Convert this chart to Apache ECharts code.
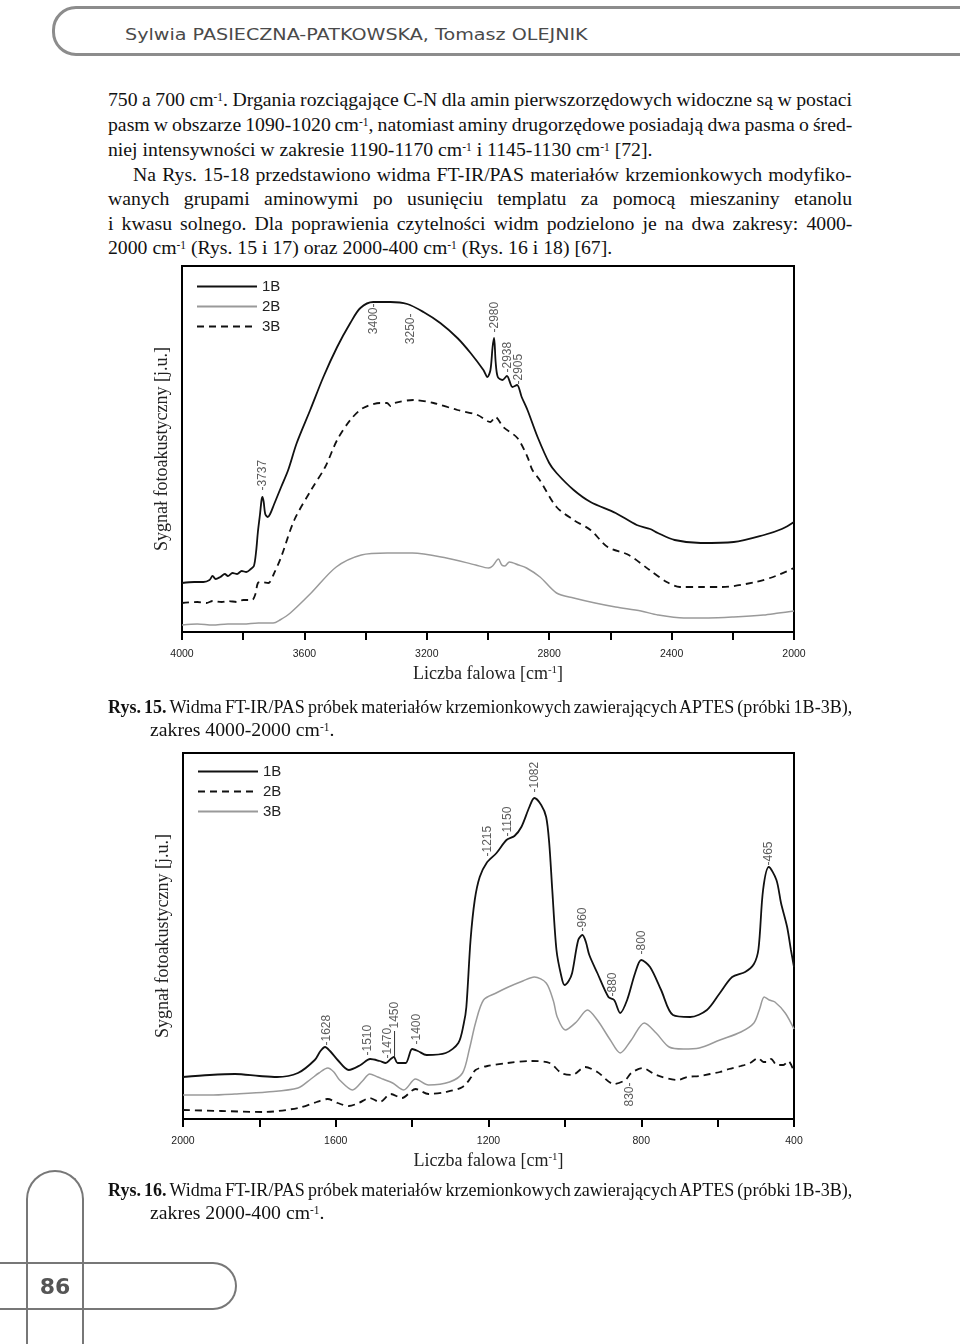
<!DOCTYPE html>
<html><head><meta charset="utf-8">
<script src="https://cdn.jsdelivr.net/npm/echarts@6/dist/echarts.min.js"></script>
<style>
html,body{margin:0;padding:0;background:#fff;}
#page{position:relative;width:960px;height:1344px;overflow:hidden;background:#fff;}
.hdr{position:absolute;left:52px;top:6px;width:1000px;height:50px;border:3px solid #8c8c8c;border-radius:24px;box-sizing:border-box;}
.hdrt{position:absolute;left:125px;top:24px;font:16px 'DejaVu Sans';color:#4a4a4a;line-height:22px;white-space:nowrap;}
.ln{position:absolute;white-space:nowrap;font-family:'Liberation Serif';font-size:19px;line-height:24px;color:#111;}
.ln sup{font-size:0.58em;line-height:0;vertical-align:0.4em;}
.fv{position:absolute;left:26px;top:1170px;width:58px;height:200px;border:2px solid #777;border-bottom:none;border-radius:29px 29px 0 0;box-sizing:border-box;}
.fh{position:absolute;left:-10px;top:1262px;width:247px;height:48px;border:2px solid #777;border-left:none;border-radius:0 24px 24px 0;box-sizing:border-box;}
.pg{position:absolute;left:27px;width:56px;top:1273px;text-align:center;font:bold 22px 'DejaVu Sans';color:#555;line-height:28px;}
.chart{position:absolute;left:0;width:960px;height:440px;}
</style></head><body><div id="page">
<div class="hdr"></div>
<div class="hdrt" id="hdrt">Sylwia PASIECZNA-PATKOWSKA, Tomasz OLEJNIK</div>

<div class="ln" style="left:108px;top:87px" data-w="744">750 a 700 cm<sup>-1</sup>. Drgania rozciągające C-N dla amin pierwszorzędowych widoczne są w postaci</div>
<div class="ln" style="left:108px;top:112px" data-w="744">pasm w obszarze 1090-1020 cm<sup>-1</sup>, natomiast aminy drugorzędowe posiadają dwa pasma o śred-</div>
<div class="ln" style="left:108px;top:137px">niej intensywności w zakresie 1190-1170 cm<sup>-1</sup> i 1145-1130 cm<sup>-1</sup> [72].</div>
<div class="ln" style="left:133px;top:162px" data-w="719">Na Rys. 15-18 przedstawiono widma FT-IR/PAS materiałów krzemionkowych modyfiko-</div>
<div class="ln" style="left:108px;top:186px" data-w="744">wanych grupami aminowymi po usunięciu templatu za pomocą mieszaniny etanolu</div>
<div class="ln" style="left:108px;top:211px" data-w="744">i kwasu solnego. Dla poprawienia czytelności widm podzielono je na dwa zakresy: 4000-</div>
<div class="ln" id="refline" style="left:108px;top:235px">2000 cm<sup>-1</sup> (Rys. 15 i 17) oraz 2000-400 cm<sup>-1</sup> (Rys. 16 i 18) [67].</div>

<div id="c1" class="chart" style="top:255px"></div>

<div class="ln" style="left:108px;top:694px" data-w="744"><b>Rys. 15.</b> Widma FT-IR/PAS próbek materiałów krzemionkowych zawierających APTES (próbki 1B-3B),</div>
<div class="ln" style="left:150px;top:717px">zakres 4000-2000 cm<sup>-1</sup>.</div>

<div id="c2" class="chart" style="top:740px"></div>

<div class="ln" style="left:108px;top:1177px" data-w="744"><b>Rys. 16.</b> Widma FT-IR/PAS próbek materiałów krzemionkowych zawierających APTES (próbki 1B-3B),</div>
<div class="ln" style="left:150px;top:1200px">zakres 2000-400 cm<sup>-1</sup>.</div>

<div class="fv"></div>
<div class="fh"></div>
<div class="pg">86</div>
</div>
<script>
// ---------- Rys. 15 (4000-2000 cm-1) ----------
const ticks1 = [4000, 3600, 3200, 2800, 2400, 2000];
const wn1_1B = [4000,3960,3930,3910,3900,3890,3875,3860,3850,3835,3820,3805,3790,3775,3765,3758,3752,3745,3740,3737,3733,3728,3720,3712,3700,3676,3653,3625,3581,3538,3493,3450,3417,3375,3319,3264,3211,3156,3100,3057,3015,3002,2992,2985,2980,2975,2968,2953,2938,2920,2905,2890,2871,2838,2800,2776,2720,2665,2583,2514,2470,2445,2390,2305,2197,2098,2040,2000];
const val1_1B = [49,50,50,52,56,53,55,58,56,59,58,61,60,63,66,80,100,118,132,135,130,118,115,118,127,145,162,189,222,255,285,309,324,330,330,328,320,309,294,279,262,255,262,285,294,270,255,252,256,245,247,235,222,195,169,159,142,130,119,107,103,99,92,89,90,97,103,110];
const wn1_2B = [4000,3950,3900,3850,3800,3750,3702,3680,3646,3578,3496,3414,3329,3247,3136,3040,2998,2985,2966,2955,2945,2930,2900,2874,2830,2776,2720,2650,2583,2500,2445,2360,2280,2197,2100,2050,2000];
const val1_2B = [7,8,7,8,8,9,9,12,19,39,65,77,79,79,74,67,64,66,73,67,66,70,67,64,55,39,34,29,25,21,17,14,14,15,17,19,21];
const wn1_3B = [4000,3950,3920,3900,3870,3850,3820,3800,3771,3760,3752,3740,3718,3700,3676,3633,3578,3532,3493,3450,3408,3352,3330,3319,3305,3244,3178,3100,3034,2992,2976,2950,2904,2871,2855,2831,2776,2720,2665,2609,2540,2472,2416,2373,2300,2236,2125,2060,2000];
const val1_3B = [29,30,29,31,30,31,30,32,32,38,49,50,49,58,75,112,142,165,192,212,224,229,229,226,229,232,229,222,217,210,215,205,194,175,162,152,125,112,102,85,77,62,50,45,45,45,50,56,64];
const peaks1Wn = [3737, 3375, 3254, 2979, 2936, 2900];
const peaks1Val = [140, 330, 320, 298, 258, 246];
const peaks1Txt = ['-3737', '3400-', '3250-', '-2980', '-2938', '-2905'];

// ---------- Rys. 16 (2000-400 cm-1) ----------
const ticks2 = [2000, 1600, 1200, 800, 400];
const wn2_1B = [2000,1930,1864,1800,1754,1699,1655,1640,1628,1615,1595,1566,1535,1510,1485,1469,1456,1448,1438,1417,1400,1385,1362,1312,1279,1265,1258,1247,1236,1223,1205,1179,1153,1132,1114,1093,1080,1062,1049,1041,1033,1022,1010,1001,990,981,965,954,945,936,915,886,871,855,837,816,800,777,748,717,672,628,594,562,528,505,493,481,466,446,434,418,408,400];
const val2_1B = [42,44,45,43,42,46,59,68,72,68,59,49,54,60,58,56,60,62,56,56,70,68,64,66,76,95,112,179,219,242,256,266,279,283,292,312,321,314,302,276,229,169,144,134,138,146,179,184,177,164,146,122,119,106,119,146,159,152,129,104,102,109,126,142,147,155,170,229,252,239,216,192,169,152];
const wn2_2B = [2000,1900,1788,1699,1650,1621,1595,1566,1540,1511,1485,1456,1427,1391,1357,1312,1268,1245,1234,1203,1150,1090,1040,1009,981,947,915,871,842,826,797,761,704,680,648,620,594,570,539,515,494,480,470,460,445,428,415,400];
const val2_2B = [9,8,7,11,17,20,16,13,16,21,17,25,21,30,25,27,32,42,49,53,56,58,56,46,44,52,47,35,39,46,51,44,39,42,43,45,47,50,53,56,61,57,57,60,54,54,58,47];
const wn2_3B = [2000,1930,1864,1780,1699,1665,1644,1621,1605,1590,1556,1530,1511,1490,1477,1451,1422,1391,1357,1302,1268,1250,1234,1213,1180,1148,1110,1080,1049,1030,1020,999,970,941,915,881,855,826,792,761,727,690,648,594,539,505,490,478,465,450,423,400];
const val2_3B = [24,24,25,27,31,40,46,51,47,39,29,38,45,42,40,36,29,40,34,37,46,70,96,119,126,132,138,142,136,118,102,89,97,109,99,79,66,79,96,86,72,70,71,79,87,96,110,122,119,117,106,90];
const peaks2Wn = [1624, 1516, 1464, 1446, 1388, 1203, 1150, 1080, 954, 876, 829, 800, 465];
const peaks2Val = [72, 62, 59, 89, 73, 261, 281, 325, 186, 121, 38, 163, 252];
const peaks2Txt = ['-1628','-1510','-1470','1450','-1400','-1215','-1150','-1082','-960','-880','830-','-800','-465'];
const leaderWn = [1446, 1446];
const leaderVal = [62, 88];

const zip = (a, b) => a.map((x, i) => [x, b[i]]);

// ---- page text fitting ----
(function () {
  const hd = document.getElementById('hdrt');
  hd.style.transformOrigin = '0 50%';
  hd.style.transform = 'scaleX(' + (463 / hd.offsetWidth).toFixed(4) + ')';
  const ref = document.getElementById('refline');
  const fs = 19 * 504 / ref.offsetWidth;
  const lines = Array.from(document.querySelectorAll('.ln'));
  lines.forEach(el => { el.style.fontSize = fs.toFixed(2) + 'px'; });
  lines.forEach(el => {
    if (!el.dataset.w) return;
    const target = +el.dataset.w;
    const w0 = el.offsetWidth;
    const n = (el.textContent.match(/ /g) || []).length;
    let ws = (target - w0) / n;
    if (ws < -1.5) {
      ws = -1.5;
      el.style.wordSpacing = ws + 'px';
      const w1 = el.offsetWidth;
      el.style.transformOrigin = '0 50%';
      el.style.transform = 'scaleX(' + (target / w1).toFixed(4) + ')';
    } else {
      el.style.wordSpacing = ws.toFixed(2) + 'px';
    }
  });
})();

const SANS = 'Liberation Sans';
const SERIF = 'Liberation Serif';

function annSeries(wn, val, txt) {
  return {
    type: 'scatter', name: 'ann', symbolSize: 1, silent: true,
    itemStyle: { color: 'rgba(0,0,0,0)' },
    data: wn.map((w, i) => {
      const right = txt[i].endsWith('-');
      return {
        value: [w, val[i]], t: txt[i],
        label: right ? { position: 'bottom', align: 'right' } : { position: 'top', align: 'left' }
      };
    }),
    label: {
      show: true, rotate: 90, distance: 1, verticalAlign: 'middle',
      fontFamily: SANS, fontSize: 12, color: '#333',
      formatter: p => p.data.t
    },
    z: 5
  };
}

function makeOption(cfg) {
  return {
    animation: false,
    grid: { left: cfg.left, top: cfg.top, width: cfg.width, height: 366, show: true, borderColor: '#000', borderWidth: 2, backgroundColor: 'transparent' },
    legend: {
      left: cfg.left + 9, top: 19, orient: 'vertical', itemWidth: 60, itemHeight: 14, itemGap: 5,
      textStyle: { fontFamily: SANS, fontSize: 15, color: '#222' },
      itemStyle: { color: 'rgba(0,0,0,0)', borderColor: 'rgba(0,0,0,0)', borderWidth: 0, opacity: 0 },
      data: ['1B', '2B', '3B'], selectedMode: false
    },
    xAxis: {
      type: 'value', min: cfg.min, max: cfg.max, interval: 200, inverse: true,
      axisLine: { show: true, lineStyle: { color: '#000', width: 2 } },
      axisTick: { show: true, inside: false, length: 8, lineStyle: { color: '#000', width: 2 } },
      axisLabel: { margin: 17, fontFamily: SANS, fontSize: 10.5, color: '#222',
        formatter: v => (cfg.ticks.indexOf(v) >= 0 ? String(v) : '') },
      splitLine: { show: false },
      name: 'Liczba falowa [cm{s|-1}]', nameLocation: 'middle', nameGap: 29,
      nameTextStyle: { fontFamily: SERIF, fontSize: 18, color: '#222',
        rich: { s: { fontFamily: SERIF, fontSize: 11, color: '#222', verticalAlign: 'top', lineHeight: 12 } } }
    },
    yAxis: {
      type: 'value', min: 0, max: 366,
      axisLine: { show: true, lineStyle: { color: '#000', width: 2 } },
      axisTick: { show: false }, axisLabel: { show: false }, splitLine: { show: false },
      name: 'Sygnał fotoakustyczny [j.u.]', nameLocation: 'middle', nameGap: 11,
      nameTextStyle: { fontFamily: SERIF, fontSize: 18, color: '#222' }
    },
    series: cfg.series
  };
}

function line(name, data, color, width, type) {
  return { type: 'line', name: name, data: data, symbol: 'none', smooth: 0.3, silent: true,
    lineStyle: { color: color, width: width, type: type }, itemStyle: { color: color } };
}

const c1 = echarts.init(document.getElementById('c1'));
c1.setOption(makeOption({
  left: 182, top: 11, width: 612, min: 2000, max: 4000, ticks: ticks1,
  series: [
    line('1B', zip(wn1_1B, val1_1B), '#111', 1.8, 'solid'),
    line('2B', zip(wn1_2B, val1_2B), '#9a9a9a', 1.5, 'solid'),
    line('3B', zip(wn1_3B, val1_3B), '#111', 1.8, [7, 5]),
    annSeries(peaks1Wn, peaks1Val, peaks1Txt)
  ]
}));

const c2 = echarts.init(document.getElementById('c2'));
c2.setOption(makeOption({
  left: 183, top: 13, width: 611, min: 400, max: 2000, ticks: ticks2,
  series: [
    line('1B', zip(wn2_1B, val2_1B), '#111', 1.8, 'solid'),
    line('2B', zip(wn2_2B, val2_2B), '#111', 1.8, [7, 5]),
    line('3B', zip(wn2_3B, val2_3B), '#9a9a9a', 1.5, 'solid'),
    annSeries(peaks2Wn, peaks2Val, peaks2Txt),
    { type: 'line', name: 'leader', data: zip(leaderWn, leaderVal), symbol: 'none', silent: true,
      lineStyle: { color: '#333', width: 1 } }
  ]
}));
</script>
</body></html>
